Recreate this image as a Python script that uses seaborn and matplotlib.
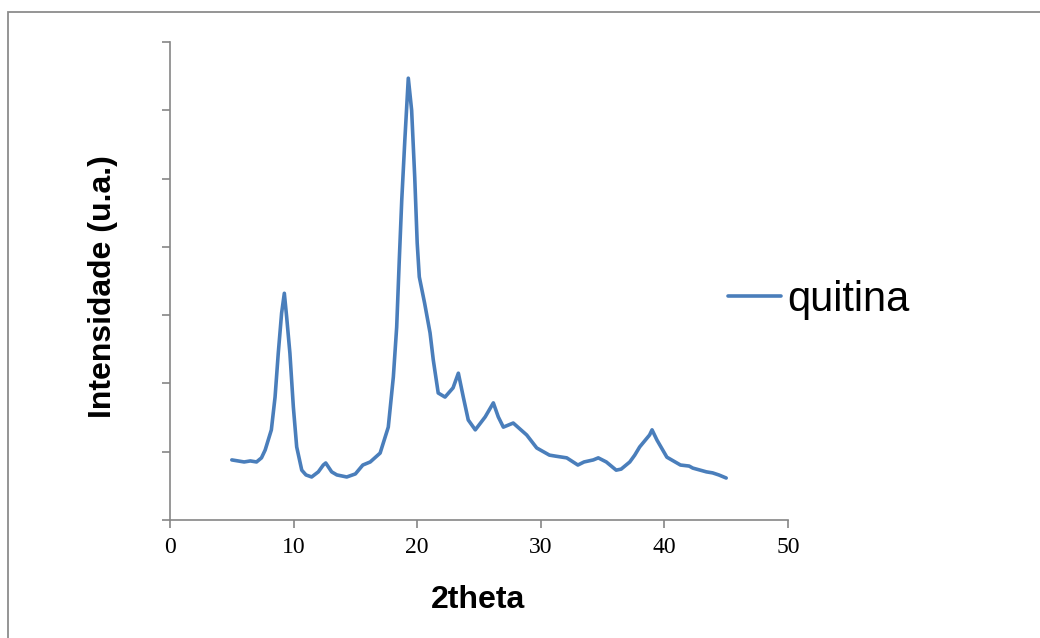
import matplotlib
matplotlib.use("Agg")
import matplotlib.pyplot as plt
from matplotlib.patches import Rectangle
import seaborn as sns
import pandas as pd

# XRD pattern of chitin
two_theta = [5.0, 5.5, 6.0, 6.5, 7.0, 7.4, 7.7, 8.2, 8.5, 8.76, 9.03, 9.25, 9.44,
             9.7, 9.98, 10.25, 10.66, 11.0, 11.46, 12.0, 12.4, 12.6, 13.08, 13.5,
             14.3, 15.0, 15.6, 16.2, 17.0, 17.66, 18.07, 18.34, 18.55, 18.75, 19.0,
             19.28, 19.55, 19.8, 20.0, 20.17, 20.6, 21.04, 21.3, 21.7, 22.25, 22.9,
             23.33, 23.73, 24.13, 24.7, 25.5, 26.16, 26.56, 26.97, 27.77, 28.86,
             29.67, 30.7, 31.2, 32.1, 33.0, 33.5, 34.25, 34.65, 35.3, 36.1, 36.5,
             37.2, 37.6, 38.0, 38.8, 39.0, 39.4, 40.2, 41.3, 42.0, 42.3, 43.4, 43.9,
             44.4, 44.8, 45.0]
intensity = [880, 865, 850, 865, 850, 910, 1025, 1320, 1800, 2445, 3030, 3320, 2970,
             2445, 1655, 1070, 730, 660, 630, 705, 805, 835, 705, 660,
             630, 675, 805, 850, 980, 1360, 2095, 2825, 3805, 4685, 5565,
             6470, 6000, 5020, 4055, 3560, 3175, 2740, 2345, 1860, 1800, 1935,
             2150, 1800, 1465, 1320, 1510, 1715, 1510, 1360, 1420, 1245,
             1055, 950, 935, 910, 805, 850, 880, 910, 850, 730, 745,
             850, 950, 1070, 1245, 1320, 1170, 920, 805, 790, 760, 705, 690,
             660, 630, 615]
series_name = "quitina"
x_ticks = [0, 10, 20, 30, 40, 50]
y_ticks = [0, 1000, 2000, 3000, 4000, 5000, 6000, 7000]

df = pd.DataFrame({"2theta": two_theta, "intensity": intensity})

sns.set_style("white")
plt.rcParams["font.family"] = ["Liberation Sans", "DejaVu Sans"]
plt.rcParams["text.color"] = "black"
plt.rcParams["axes.labelcolor"] = "black"
plt.rcParams["xtick.labelcolor"] = "black"

fig = plt.figure(figsize=(10.4, 6.38), dpi=100)
ax = fig.add_axes([170 / 1040, 1 - 520 / 638, 618 / 1040, 478 / 638])

sns.lineplot(data=df, x="2theta", y="intensity", ax=ax, color="#4A7EBB",
             linewidth=3.6, label=series_name)

gray = "#868686"
ax.set_xlim(0, 50)
ax.set_ylim(0, 7000)
ax.set_xticks(x_ticks)
ax.set_yticks(y_ticks)
ax.set_yticklabels([])
ax.set_xticklabels([str(t) for t in x_ticks], family="Liberation Serif", fontsize=17,
                   color="black")
ax.tick_params(axis="both", direction="out", length=6, width=1.2, color=gray,
               bottom=True, left=True, pad=6)
for side in ["top", "right"]:
    ax.spines[side].set_visible(False)
for side in ["left", "bottom"]:
    ax.spines[side].set_color(gray)
    ax.spines[side].set_linewidth(1.2)

ax.set_xlabel("2theta", fontsize=23, fontweight="bold", va="center", color="black")
ax.set_ylabel("Intensidade (u.a.)", fontsize=23, fontweight="bold", va="center",
              color="black")
ax.xaxis.set_label_coords(0.499, -0.167)
ax.yaxis.set_label_coords(-0.108, 0.488)

ax.get_legend().remove()
handles, labels = ax.get_legend_handles_labels()
handles[0].set_linewidth(2.6)
fig.legend(handles, labels, loc="center left", bbox_to_anchor=(728 / 1040, 1 - 300 / 638),
           frameon=False, fontsize=30, handlelength=1.27, handletextpad=0.15,
           borderpad=0, borderaxespad=0, labelcolor="black")

# outer chart frame, cut off at the right and bottom edges like the reference
fig.patches.append(Rectangle((8 / 1040, -0.1), 1.2, 1 - 12 / 638 + 0.1,
                             transform=fig.transFigure, fill=False,
                             edgecolor="#8C8C8C", linewidth=1.3))

fig.savefig("out.png", dpi=100)
